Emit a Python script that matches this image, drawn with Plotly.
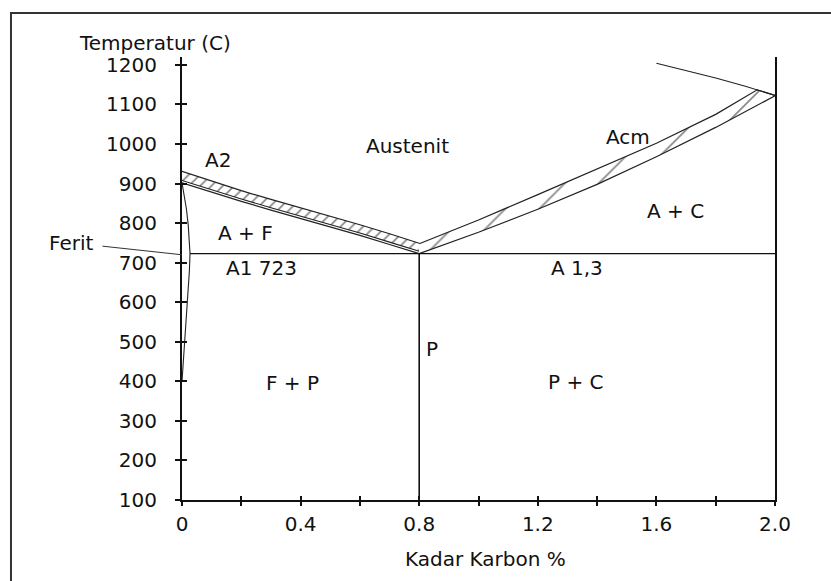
import plotly.graph_objects as go

# --- Fe-Fe3C (steel side) phase diagram data -------------------------------
# carbon content in %, temperature in degrees C

# A3 line (lower edge of the hatched band), inner line and upper edge
a3_carbon = [0, 0.1, 0.2, 0.3, 0.4, 0.5, 0.6, 0.7, 0.8]
a3_lower = [902, 878, 855, 833, 812, 791, 769, 746, 723]
a3_inner = [908, 884, 861, 839, 818, 797, 775, 752, 729]
a3_upper = [931, 906, 882, 860, 839, 818, 796, 773, 749]

# Acm line and the upper edge of its hatched band
acm_carbon = [0.8, 1.0, 1.2, 1.4, 1.6, 1.8, 2.0]
acm_lower = [723, 777, 835, 898, 968, 1042, 1122]
acm_upper_carbon = [0.8, 1.0, 1.2, 1.4, 1.6, 1.8, 1.94, 2.0]
acm_upper = [748, 808, 872, 936, 1002, 1075, 1137, 1123]

# solidus segment near 2 % C
solidus_carbon = [1.6, 1.7, 1.8, 1.9, 2.0]
solidus_temp = [1204, 1186, 1167, 1146, 1123]

# ferrite solvus close to 0 % C
ferrite_carbon = [0, 0.008, 0.015, 0.021, 0.025, 0.027, 0.025, 0.02, 0.014, 0.008, 0.003, 0]
ferrite_temp = [902, 870, 835, 795, 755, 723, 680, 620, 560, 500, 440, 400]

# eutectoid isotherm (A1) and the eutectoid composition line
a1_carbon = [0.027, 2.0]
a1_temp = [723, 723]
eutectoid_carbon = [0.8, 0.8]
eutectoid_temp = [100, 723]

# axes
x_tick_vals = [0, 0.2, 0.4, 0.6, 0.8, 1.0, 1.2, 1.4, 1.6, 1.8, 2.0]
x_tick_text = ["0", "", "0.4", "", "0.8", "", "1.2", "", "1.6", "", "2.0"]
y_tick_vals = [100, 200, 300, 400, 500, 600, 700, 800, 900, 1000, 1100, 1200]
y_tick_text = [str(v) for v in y_tick_vals]

# region labels: (text, carbon %, temperature)
region_labels = [
    ("A2", 0.12, 960),
    ("Austenit", 0.76, 996),
    ("Acm", 1.503, 1017),
    ("A + C", 1.663, 830),
    ("A + F", 0.214, 775),
    ("A1 723", 0.268, 687),
    ("A 1,3", 1.332, 687),
    ("P", 0.843, 482),
    ("F + P", 0.374, 397),
    ("P + C", 1.329, 398),
]

FONT = "DejaVu Sans"
FSIZE = 20
TXT = "#111111"
LINE = "#222222"

fig = go.Figure()


def line(x, y, width=1.1, color=LINE, **kw):
    fig.add_trace(go.Scatter(x=x, y=y, mode="lines", line=dict(color=color, width=width),
                             hoverinfo="skip", showlegend=False, **kw))


# A3 hatched band
line(a3_carbon, a3_inner, width=1.1)
line(a3_carbon, a3_upper, width=1.2, fill="tonexty", fillcolor="white",
     fillpattern=dict(shape="/", size=8, solidity=0.22, fgcolor="#111111", bgcolor="white"))
line(a3_carbon, a3_lower, width=1.2)

# Acm hatched band
line(acm_carbon, acm_lower, width=1.2)
line(acm_upper_carbon, acm_upper, width=1.2, fill="tonexty", fillcolor="white",
     fillpattern=dict(shape="/", size=24, solidity=0.07, fgcolor="#111111", bgcolor="white"))

# solidus segment and ferrite solvus
line(solidus_carbon, solidus_temp, width=1.1)
line(ferrite_carbon, ferrite_temp, width=1.1)

# A1 isotherm
line(a1_carbon, a1_temp, width=1.4, color="#111111")

# eutectoid composition line (drawn on the overlay axes that carry the inner ticks)
line(eutectoid_carbon, eutectoid_temp, width=1.6, color="#111111", xaxis="x2", yaxis="y2")

for text, cx, ty in region_labels:
    fig.add_annotation(x=cx, y=ty, xref="x", yref="y", text=text, showarrow=False,
                       xanchor="center", yanchor="middle",
                       font=dict(family=FONT, size=FSIZE, color=TXT))

# ferrite label with its leader line
fig.add_annotation(x=0, y=720, xref="x", yref="y", text="Ferit", showarrow=True,
                   arrowhead=0, arrowwidth=1, arrowcolor="#333333", ax=-111, ay=-12,
                   startstandoff=8, font=dict(family=FONT, size=FSIZE, color=TXT))

# axis captions
fig.add_annotation(x=-0.0455, y=1.0316, xref="paper", yref="paper", text="Temperatur (C)",
                   showarrow=False, xanchor="center", yanchor="middle",
                   font=dict(family=FONT, size=FSIZE, color=TXT))
fig.add_annotation(x=0.5126, y=-0.133, xref="paper", yref="paper", text="Kadar Karbon %",
                   showarrow=False, xanchor="center", yanchor="middle",
                   font=dict(family=FONT, size=FSIZE, color=TXT))

# outer frame
fig.add_shape(type="rect", xref="paper", yref="paper", x0=-0.2884, x1=1.2, y0=-0.3, y1=1.0993,
              line=dict(color="#333333", width=2), fillcolor="rgba(0,0,0,0)", layer="above")

axis_common = dict(showgrid=False, zeroline=False)

fig.update_layout(
    width=831,
    height=581,
    margin=dict(l=182, r=56, t=57, b=81),
    paper_bgcolor="white",
    plot_bgcolor="white",
    showlegend=False,
    xaxis=dict(range=[0, 2.0], tickmode="array", tickvals=x_tick_vals, ticktext=x_tick_text,
               ticks="outside", ticklen=4, tickwidth=1.5, tickcolor="#111111",
               showline=True, linewidth=2, linecolor="#111111",
               tickfont=dict(family=FONT, size=FSIZE, color=TXT), ticklabelstandoff=1,
               **axis_common),
    xaxis2=dict(range=[0, 2.0], overlaying="x", matches="x", anchor="y", tickmode="array",
                tickvals=x_tick_vals, ticks="inside", ticklen=4, tickwidth=1.5,
                tickcolor="#111111", showticklabels=False, showline=False, **axis_common),
    yaxis=dict(range=[100, 1220], tickmode="array", tickvals=y_tick_vals, ticktext=y_tick_text,
               ticks="outside", ticklen=5, tickwidth=1.5, tickcolor="#111111",
               showline=True, linewidth=2, linecolor="#111111", mirror=True,
               tickfont=dict(family=FONT, size=FSIZE, color=TXT), ticklabelstandoff=14,
               **axis_common),
    yaxis2=dict(range=[100, 1220], overlaying="y", matches="y", anchor="x", side="left",
                tickmode="array", tickvals=y_tick_vals, ticks="inside", ticklen=5,
                tickwidth=1.5, tickcolor="#111111", showticklabels=False, showline=False,
                **axis_common),
)

fig.write_html("out.html")
